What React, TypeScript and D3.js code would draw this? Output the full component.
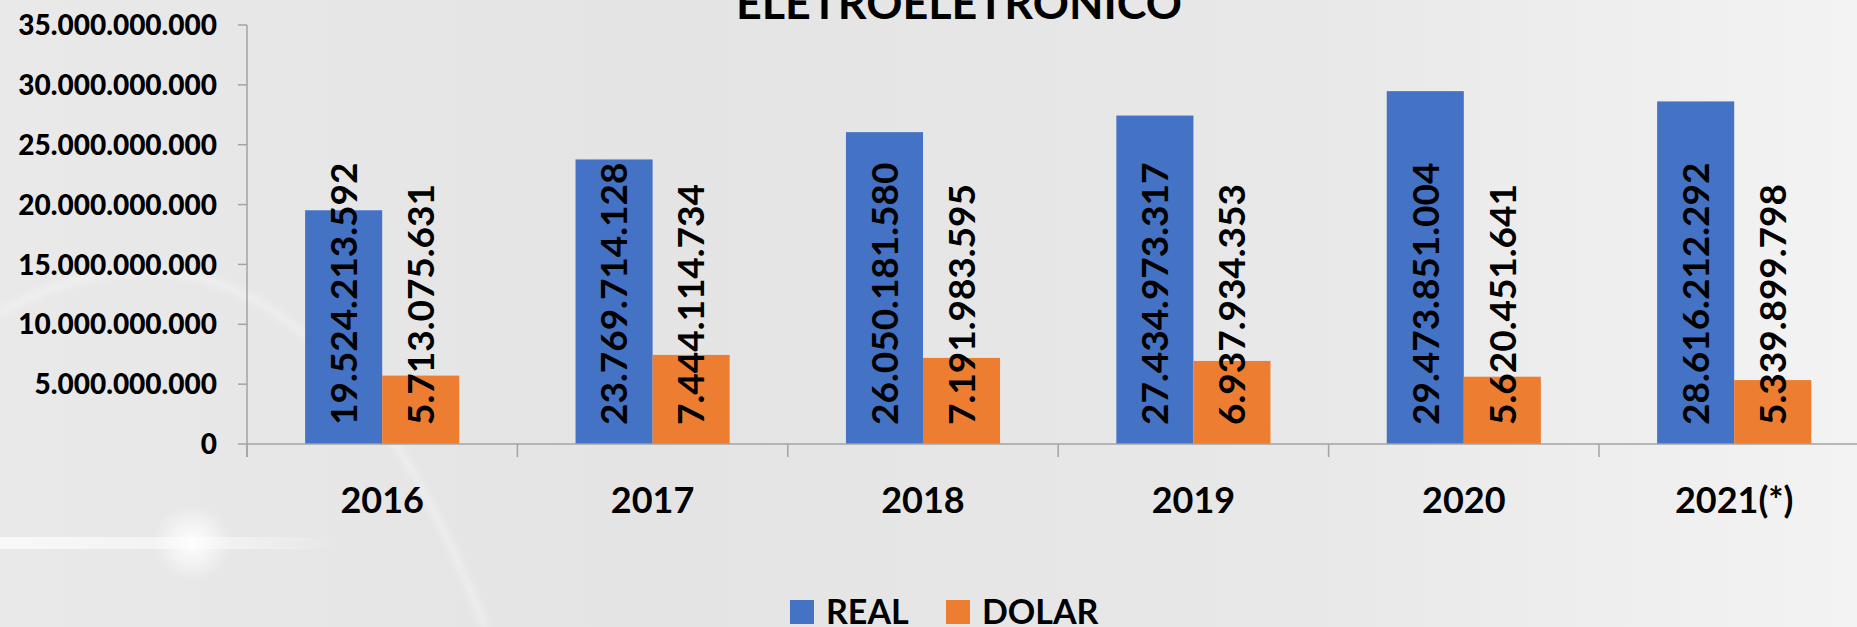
import React from "react";
import * as d3 from "d3";

const categories = ["2016", "2017", "2018", "2019", "2020", "2021(*)"];
const seriesNames = ["REAL", "DOLAR"];
const realValues = [19524213592, 23769714128, 26050181580, 27434973317, 29473851004, 28616212292];
const dolarValues = [5713075631, 7444114734, 7191983595, 6937934353, 5620451641, 5339899798];
const yTicks = [0, 5e9, 10e9, 15e9, 20e9, 25e9, 30e9, 35e9];
const colors = ["#4472C4", "#ED7D31"];
const title = "ELETROELETRONICO";

const W = 1857;
const H = 627;
const FONT = "Lato, 'Open Sans', sans-serif";

const locale = d3.formatLocale({ decimal: ",", thousands: ".", grouping: [3], currency: ["R$", ""] });
const fmt = locale.format(",.0f");

export default function App() {
  const axisX = 247;
  const step = 270.4;
  const x0 = d3
    .scaleBand<string>()
    .domain(categories)
    .range([axisX, axisX + step * categories.length])
    .paddingInner(0.43)
    .paddingOuter(0.215);
  const x1 = d3.scaleBand<string>().domain(seriesNames).range([0, x0.bandwidth()]);
  const y = d3.scaleLinear().domain([0, 35e9]).range([444, 25]);
  const data = [realValues, dolarValues];

  return (
    <svg
      width={W}
      height={H}
      style={{ position: "fixed", left: 0, top: 0, display: "block" }}
      xmlns="http://www.w3.org/2000/svg"
    >
      <defs>
        <linearGradient id="bg" x1="0" y1="0" x2="1" y2="0">
          <stop offset="0" stopColor="#e9e9e9" />
          <stop offset="0.35" stopColor="#e4e4e4" />
          <stop offset="0.7" stopColor="#e8e8e8" />
          <stop offset="1" stopColor="#f3f3f3" />
        </linearGradient>
        <radialGradient id="glow" cx="0.5" cy="0.5" r="0.5">
          <stop offset="0" stopColor="#ffffff" stopOpacity="0.95" />
          <stop offset="0.5" stopColor="#ffffff" stopOpacity="0.5" />
          <stop offset="1" stopColor="#ffffff" stopOpacity="0" />
        </radialGradient>
        <linearGradient id="streak" x1="0" y1="0" x2="1" y2="0">
          <stop offset="0" stopColor="#ffffff" stopOpacity="0.7" />
          <stop offset="0.7" stopColor="#ffffff" stopOpacity="0.4" />
          <stop offset="1" stopColor="#ffffff" stopOpacity="0" />
        </linearGradient>
        <filter id="blur" x="-20%" y="-20%" width="140%" height="140%">
          <feGaussianBlur stdDeviation="3" />
        </filter>
      </defs>
      <rect x={0} y={0} width={W} height={H} fill="url(#bg)" />
      <rect x={0} y={537} width={340} height={12} fill="url(#streak)" />
      <ellipse cx={192} cy={543} rx={40} ry={38} fill="url(#glow)" />
      <path
        d="M 0 312 Q 300 150 485 627"
        fill="none"
        stroke="#ffffff"
        strokeOpacity={0.3}
        strokeWidth={8}
        filter="url(#blur)"
      />

      {/* title */}
      <text
        x={959}
        y={19}
        textAnchor="middle"
        fontFamily={FONT}
        fontWeight={700}
        fontSize={43}
        textLength={446}
        lengthAdjust="spacingAndGlyphs"
        fill="#000"
      >
        {title}
      </text>

      {/* bars */}
      {categories.map((c, i) =>
        seriesNames.map((s, j) => {
          const v = data[j][i];
          const bx = (x0(c) as number) + (x1(s) as number);
          return (
            <rect
              key={c + s}
              x={bx}
              y={y(v)}
              width={x1.bandwidth()}
              height={y(0) - y(v)}
              fill={colors[j]}
            />
          );
        })
      )}

      {/* axes */}
      <line x1={axisX} x2={W} y1={y(0)} y2={y(0)} stroke="#a3a3a3" strokeWidth={1.5} />
      <line x1={axisX} x2={axisX} y1={y(35e9)} y2={y(0) + 13} stroke="#a3a3a3" strokeWidth={1.5} />
      {yTicks.map((t) => (
        <g key={t}>
          <line x1={axisX - 9} x2={axisX} y1={y(t)} y2={y(t)} stroke="#a3a3a3" strokeWidth={1.5} />
          <text
            x={217}
            y={y(t)}
            dy="0.36em"
            textAnchor="end"
            fontFamily={FONT}
            fontWeight={900}
            fontSize={28}
            fill="#000"
          >
            {fmt(t)}
          </text>
        </g>
      ))}
      {d3.range(categories.length + 1).map((i) => (
        <line
          key={i}
          x1={axisX + i * step}
          x2={axisX + i * step}
          y1={y(0)}
          y2={y(0) + 13}
          stroke="#a3a3a3"
          strokeWidth={1.5}
        />
      ))}
      {categories.map((c) => (
        <text
          key={c}
          x={(x0(c) as number) + x0.bandwidth() / 2}
          y={513}
          textAnchor="middle"
          fontFamily={FONT}
          fontWeight={700}
          fontSize={36}
          fill="#000"
        >
          {c}
        </text>
      ))}

      {/* data labels */}
      {categories.map((c, i) =>
        seriesNames.map((s, j) => {
          const v = data[j][i];
          const cx = (x0(c) as number) + (x1(s) as number) + x1.bandwidth() / 2;
          const by = y(0) - 19;
          return (
            <text
              key={"l" + c + s}
              transform={`translate(${cx},${by}) rotate(-90)`}
              dy="0.36em"
              textAnchor="start"
              fontFamily={FONT}
              fontWeight={700}
              fontSize={37}
              fill="#000"
            >
              {fmt(v)}
            </text>
          );
        })
      )}

      {/* legend */}
      <rect x={790} y={600} width={24} height={24} fill={colors[0]} />
      <text x={826} y={624} fontFamily={FONT} fontWeight={700} fontSize={34} fill="#000">
        {seriesNames[0]}
      </text>
      <rect x={946} y={600} width={24} height={24} fill={colors[1]} />
      <text x={982} y={624} fontFamily={FONT} fontWeight={700} fontSize={34} fill="#000">
        {seriesNames[1]}
      </text>
    </svg>
  );
}
